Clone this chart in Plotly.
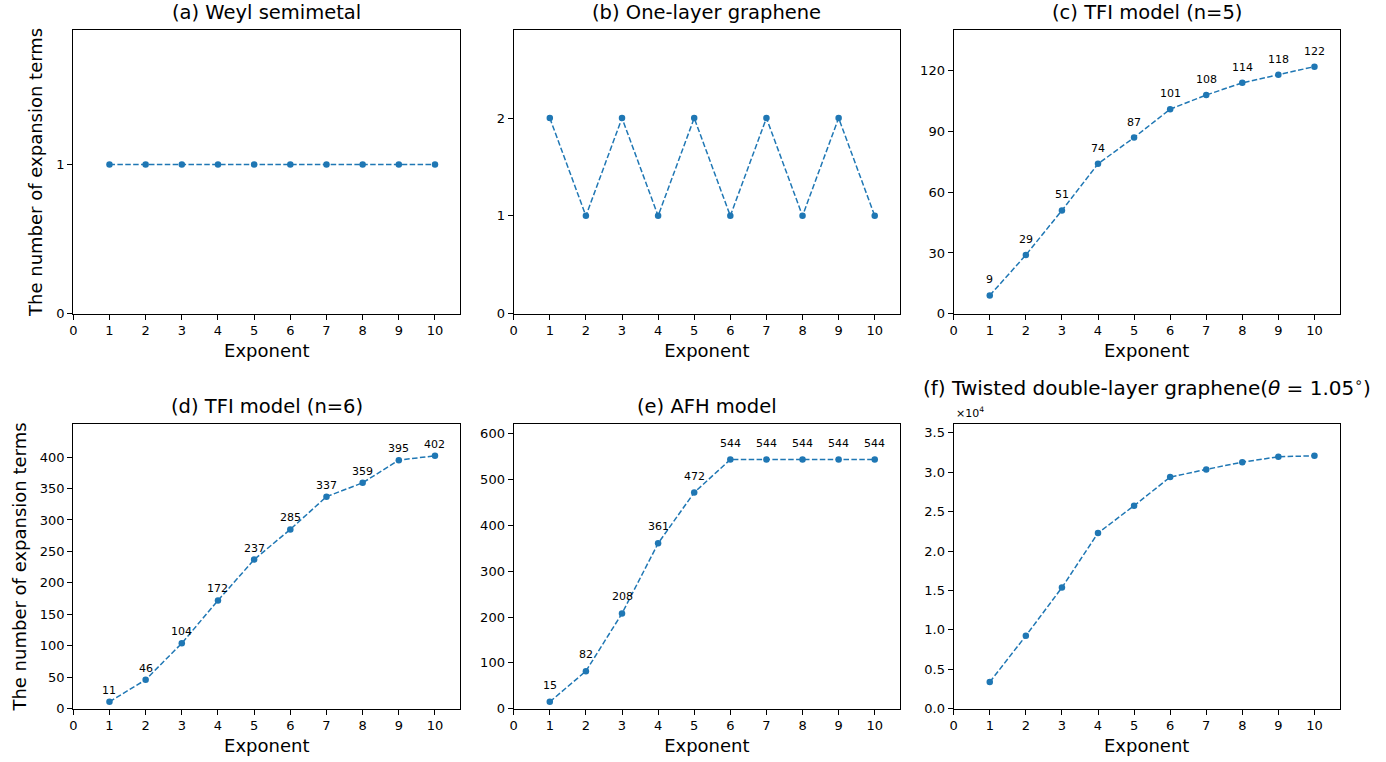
import plotly.graph_objects as go

exponents = [1, 2, 3, 4, 5, 6, 7, 8, 9, 10]
weyl = [1, 1, 1, 1, 1, 1, 1, 1, 1, 1]
graphene = [2, 1, 2, 1, 2, 1, 2, 1, 2, 1]
tfi5 = [9, 29, 51, 74, 87, 101, 108, 114, 118, 122]
tfi6 = [11, 46, 104, 172, 237, 285, 337, 359, 395, 402]
afh = [15, 82, 208, 361, 472, 544, 544, 544, 544, 544]
twisted = [3380, 9250, 15370, 22290, 25750, 29380, 30360, 31280, 31960, 32090]

titles = ["(a) Weyl semimetal", "(b) One-layer graphene", "(c) TFI model (n=5)",
          "(d) TFI model (n=6)", "(e) AFH model",
          "(f) Twisted double-layer graphene(<i>θ</i> = 1.05<sup>∘</sup>)"]
series = [weyl, graphene, tfi5, tfi6, afh, twisted]
show_labels = [False, False, True, True, True, False]
label_shift = [0, 0, 7, 3, 8, 0]
y_ranges = [[0, 1.9], [0, 2.9], [0, 140.1], [0, 452], [0, 621], [0, 36080]]
y_ticks = [[0, 1], [0, 1, 2], [0, 30, 60, 90, 120], list(range(0, 401, 50)),
           list(range(0, 601, 100)), list(range(0, 35001, 5000))]
y_ticktext = [None, None, None, None, None,
              ["0.0", "0.5", "1.0", "1.5", "2.0", "2.5", "3.0", "3.5"]]
ylabel = "The number of expansion terms"

W, H = 1386, 762
cols_px = [(73.3, 460.3), (513.7, 900.0), (953.7, 1339.7)]
rows_px = [(30.0, 313.7), (424.3, 708.7)]

FONT = "DejaVu Sans"
BLUE = "#1f77b4"

fig = go.Figure()
layout = dict(
    width=W, height=H, margin=dict(l=0, r=0, t=0, b=0, autoexpand=False),
    paper_bgcolor="white", plot_bgcolor="white", showlegend=False,
    font=dict(family=FONT, size=13, color="black"),
)
annotations = []

for i in range(6):
    r, c = divmod(i, 3)
    ax = "" if i == 0 else str(i + 1)
    x0, x1 = cols_px[c]
    y0, y1 = rows_px[r]
    xd = [x0 / W, x1 / W]
    yd = [1 - y1 / H, 1 - y0 / H]
    common = dict(showline=True, mirror=True, linecolor="black", linewidth=1.3,
                  ticks="outside", ticklen=5, tickwidth=1.1, tickcolor="black",
                  showgrid=False, zeroline=False, automargin=False,
                  tickfont=dict(family=FONT, size=13, color="black"))
    layout["xaxis" + ax] = dict(domain=xd, anchor="y" + ax, range=[0, 10.7],
                                tickvals=list(range(0, 11)),
                                title=dict(text="Exponent", font=dict(family=FONT, size=18),
                                           standoff=6),
                                **common)
    yax = dict(domain=yd, anchor="x" + ax, range=y_ranges[i], tickvals=y_ticks[i], **common)
    if y_ticktext[i] is not None:
        yax["ticktext"] = y_ticktext[i]
    if c == 0:
        yax["title"] = dict(text=ylabel, font=dict(family=FONT, size=18), standoff=8)
    layout["yaxis" + ax] = yax

    fig.add_trace(go.Scatter(
        x=exponents, y=series[i], mode="lines+markers",
        line=dict(color=BLUE, width=1.5, dash="5.5px,2.4px"),
        marker=dict(color=BLUE, size=6.5),
        xaxis="x" + ax, yaxis="y" + ax, hoverinfo="x+y",
    ))

    # panel title
    ty = 1 - y0 / H
    annotations.append(dict(
        text=titles[i], x=(x0 + x1) / 2 / W, y=ty, xref="paper", yref="paper",
        xanchor="center", yanchor="bottom", showarrow=False,
        yshift=(22 if i == 5 else 4),
        font=dict(family=FONT, size=(20 if i == 5 else 19.5), color="black"),
    ))

    if show_labels[i]:
        for xv, yv in zip(exponents, series[i]):
            annotations.append(dict(
                text=str(yv), x=xv, y=yv, xref="x" + ax, yref="y" + ax,
                xanchor="center", yanchor="bottom", showarrow=False,
                yshift=label_shift[i],
                font=dict(family=FONT, size=11, color="black"),
            ))

# offset text for panel (f)
annotations.append(dict(
    text="×10<sup>4</sup>", x=953.7 / W, y=1 - 424.3 / H, xref="paper", yref="paper",
    xanchor="left", yanchor="bottom", showarrow=False, yshift=2,
    font=dict(family=FONT, size=11, color="black"),
))

layout["annotations"] = annotations
fig.update_layout(**layout)
fig.write_html("out.html", config={"displayModeBar": False},
               post_script="document.body.style.margin='0';document.body.style.overflow='hidden';")
